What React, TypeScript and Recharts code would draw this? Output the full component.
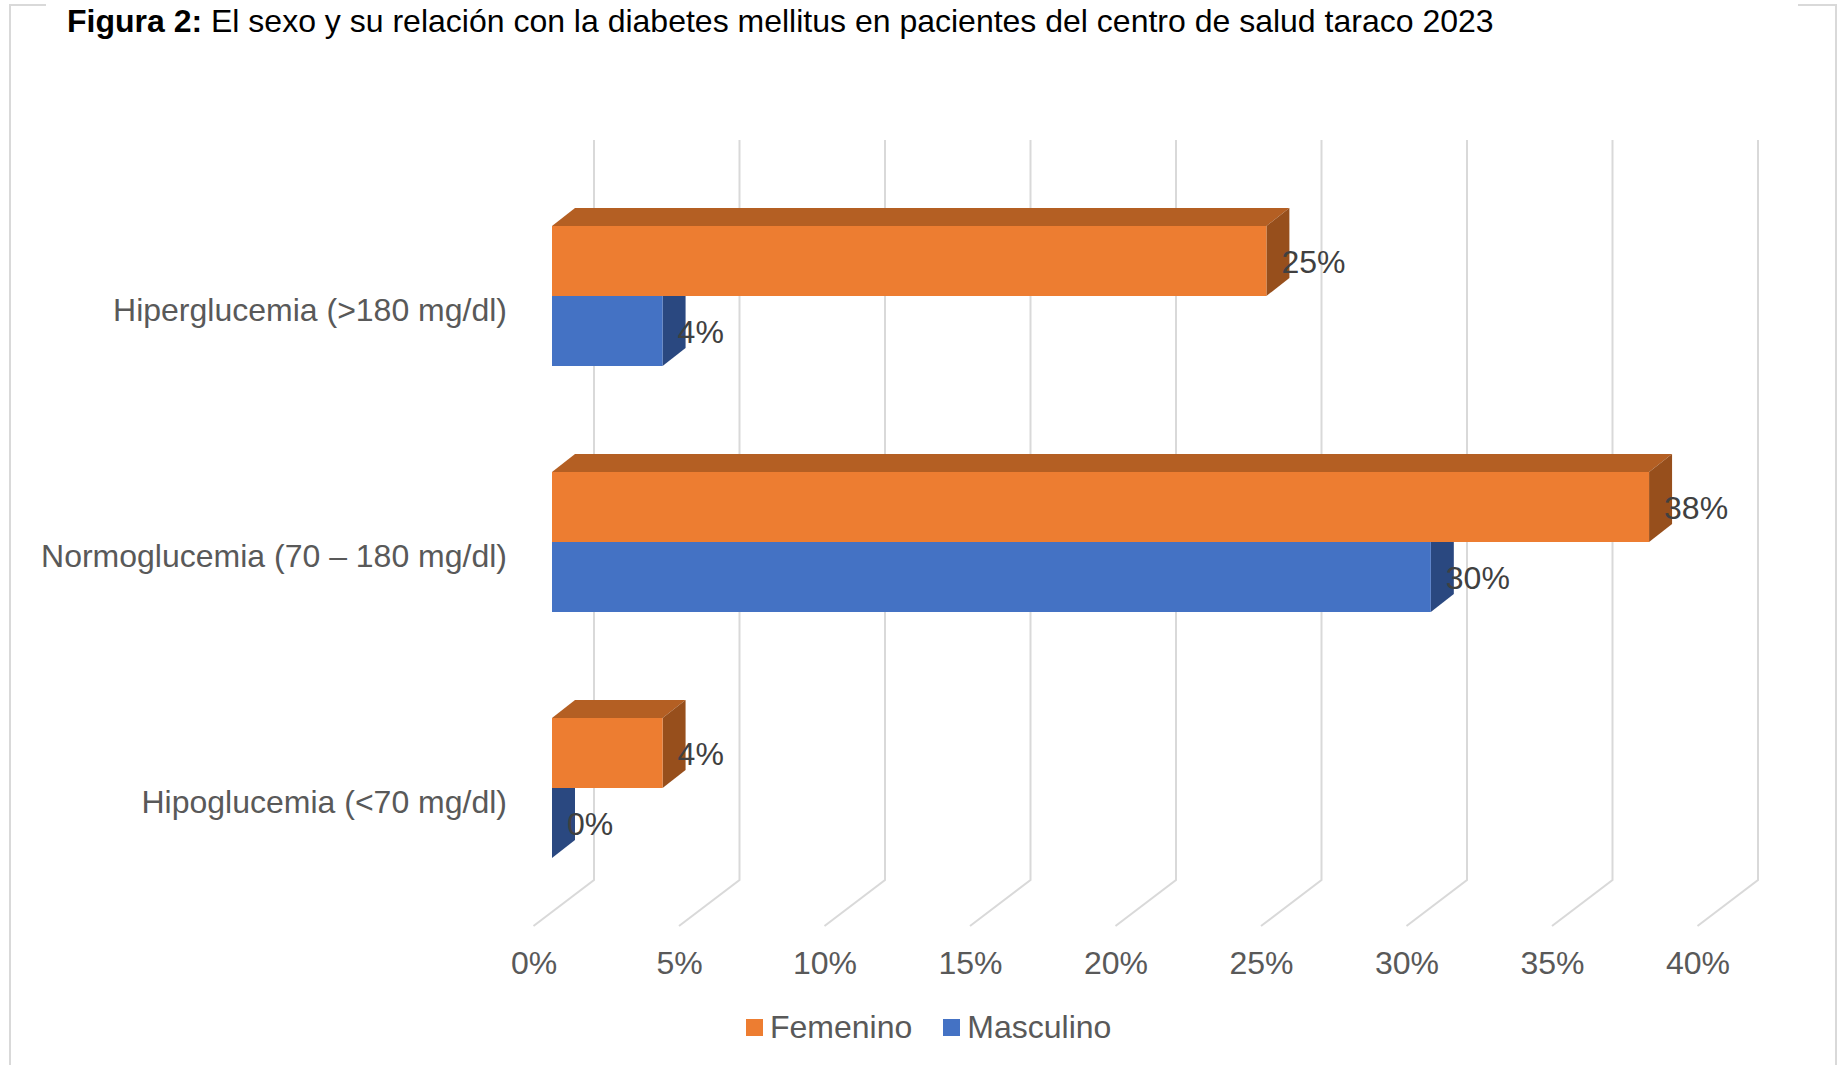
import React from "react";
import { Bar, BarChart, CartesianGrid, LabelList, Legend, XAxis, YAxis } from "recharts";

const categories = ["Hiperglucemia (>180 mg/dl)", "Normoglucemia (70 – 180 mg/dl)", "Hipoglucemia (<70 mg/dl)"];
const femenino = [24.55, 37.7, 3.8];
const masculino = [3.8, 30.2, 0];
const xTicks = [0, 5, 10, 15, 20, 25, 30, 35, 40];

const data = categories.map((name, i) => ({ name, femenino: femenino[i], masculino: masculino[i] }));

const textGray = "#595959";
const fontFamily = "'Liberation Sans', Arial, sans-serif";

// 3d depth of the bars and of the floor under the plot
const depthX = 23;
const depthY = 18;
const floorFront = -18.5;
const floorBack = 42;

const Box3D = (props: any) => {
  const { x, y, width, height, front, side, top } = props;
  const right = x + width;
  const bottom = y + height;
  // the lower bar has no top face, the bar above hides it
  const sideTop = top ? y - depthY : y;
  return (
    <g>
      {top && (
        <polygon points={`${x},${y} ${x + depthX},${y - depthY} ${right + depthX},${y - depthY} ${right},${y}`} fill={top} />
      )}
      <polygon
        points={`${right},${y} ${right + depthX},${sideTop} ${right + depthX},${bottom - depthY} ${right},${bottom}`}
        fill={side}
      />
      <rect x={x} y={y} width={width} height={height} fill={front} />
    </g>
  );
};

const GridLine = (props: any) => {
  const { x1, y1, y2 } = props;
  return (
    <polyline
      points={`${x1 + floorBack},${y1 - 33} ${x1 + floorBack},${y2 - 31} ${x1 + floorFront},${y2 + 15}`}
      fill="none"
      stroke="#d9d9d9"
      strokeWidth={2}
    />
  );
};

const XTick = ({ x, y, payload }: any) => (
  <text x={x + floorFront + 0.5} y={y + 55} textAnchor="middle" fontSize={32} fontFamily={fontFamily} fill={textGray}>
    {payload.value}%
  </text>
);

const YTick = ({ x, y, payload }: any) => (
  <text x={x - 37} y={y + 25} textAnchor="end" fontSize={32} fontFamily={fontFamily} fill={textGray}>
    {payload.value}
  </text>
);

const LegendRow = ({ payload }: any) => (
  <div style={{ display: "flex", lineHeight: "36px", fontFamily, fontSize: 32, color: textGray }}>
    {(payload || []).map((entry: any) => (
      <div key={entry.value} style={{ display: "flex", alignItems: "center", marginRight: 31 }}>
        <span style={{ width: 17, height: 17, background: entry.color, marginRight: 7 }} />
        {entry.value}
      </div>
    ))}
  </div>
);

const percent = (v: any) => `${Math.round(v)}%`;

export default function App() {
  return (
    <div style={{ position: "absolute", left: 0, top: 0, width: 1840, height: 1065, background: "#fff", overflow: "hidden" }}>
      <div
        style={{
          position: "absolute",
          left: 9,
          top: 4,
          width: 1828,
          height: 1080,
          border: "2px solid #d9d9d9",
          boxSizing: "border-box",
        }}
      />
      <div style={{ position: "absolute", left: 46, top: 0, width: 1752, height: 40, background: "#fff" }} />
      <div
        style={{
          position: "absolute",
          left: 67,
          top: 3,
          fontFamily,
          fontSize: 32,
          color: "#000",
          whiteSpace: "nowrap",
        }}
      >
        <b>Figura 2:</b> El sexo y su relación con la diabetes mellitus en pacientes del centro de salud taraco 2023
      </div>
      <BarChart
        width={1840}
        height={1065}
        data={data}
        layout="vertical"
        barSize={70}
        barGap={0}
        margin={{ top: 173, right: 124, bottom: 0, left: 0 }}
        style={{ position: "absolute", left: 0, top: 0 }}
      >
        <CartesianGrid horizontal={false} vertical={(p: any) => <GridLine key={p.key} {...p} />} stroke="#d9d9d9" />
        <XAxis
          type="number"
          domain={[0, 40]}
          ticks={xTicks}
          interval={0}
          axisLine={false}
          tickLine={false}
          tick={<XTick />}
          height={118}
        />
        <YAxis type="category" dataKey="name" width={552} axisLine={false} tickLine={false} tick={<YTick />} interval={0} />
        <Legend content={<LegendRow />} wrapperStyle={{ left: 746, top: 1009, width: 500 }} />
        <Bar
          dataKey="femenino"
          name="Femenino"
          fill="#ED7D31"
          isAnimationActive={false}
          shape={(p: any) => <Box3D {...p} front="#ED7D31" side="#974F1C" top="#B45F23" />}
        >
          <LabelList dataKey="femenino" position="right" offset={15} dy={1} formatter={percent} fill="#404040" fontSize={32} fontFamily={fontFamily} />
        </Bar>
        <Bar
          dataKey="masculino"
          name="Masculino"
          fill="#4472C4"
          isAnimationActive={false}
          shape={(p: any) => <Box3D {...p} front="#4472C4" side="#2A4880" />}
        >
          <LabelList dataKey="masculino" position="right" offset={15} dy={1} formatter={percent} fill="#404040" fontSize={32} fontFamily={fontFamily} />
        </Bar>
      </BarChart>
    </div>
  );
}
